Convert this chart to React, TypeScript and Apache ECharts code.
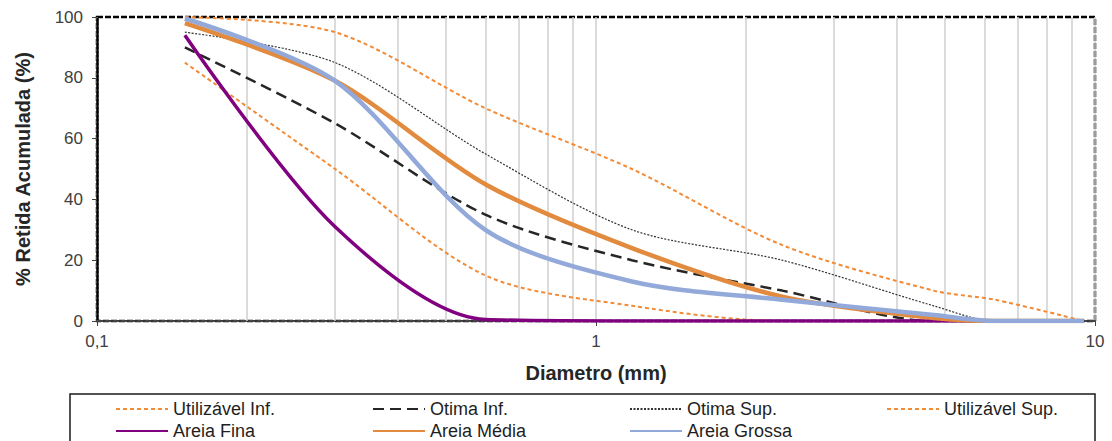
import React, { useEffect, useRef } from "react";
import * as echarts from "echarts";

const diam = [0.15, 0.3, 0.6, 1.18, 2.36, 4.75, 6.3, 9.5];
const utilInf = [85, 50, 15, 5, 0, 0, 0, 0];
const otimaInf = [90, 65, 35, 20, 10, 0, 0, 0];
const otimaSup = [95, 85, 55, 30, 20, 5, 0, 0];
const utilSup = [100, 95, 70, 50, 25, 10, 7, 0];
const areiaFina = [94, 31, 0.5, 0, 0, 0, 0, 0];
const areiaMedia = [98, 79, 45, 24, 8, 1, 0, 0];
const areiaGrossa = [99.5, 79, 30, 13, 7, 2, 0, 0];
const minorGrid = [0.2, 0.3, 0.4, 0.5, 0.6, 0.7, 0.8, 0.9, 2, 3, 4, 5, 6, 7, 8, 9];
const seriesNames = [
  "Utilizável Inf.",
  "Otima Inf.",
  "Otima Sup.",
  "Utilizável Sup.",
  "Areia Fina",
  "Areia Média",
  "Areia Grossa",
];

const FONT = "Liberation Sans, Arial, sans-serif";

const pairs = (vals: number[]) => diam.map((d, i) => [d, vals[i]]);

export default function App() {
  const ref = useRef<HTMLDivElement>(null);
  useEffect(() => {
    if (!ref.current) return;
    const chart = echarts.init(ref.current, undefined, { renderer: "svg" });
    const mk = (name: string, vals: number[], color: string, width: number, type: any, extra: any = {}) => ({
      name,
      type: "line",
      data: pairs(vals),
      smooth: 0.3,
      symbol: "none",
      showSymbol: false,
      lineStyle: { color, width, type, cap: "butt" },
      itemStyle: { color },
      ...extra,
    });
    const legendText = {
      fontFamily: FONT,
      fontSize: 18,
      color: "#1f1f1f",
      width: 193,
      lineHeight: 18,
    };
    const legendBase = {
      left: 110,
      width: 1100,
      itemWidth: 52,
      itemHeight: 14,
      itemGap: 6,
      textStyle: legendText,
      selectedMode: false,
      itemStyle: { opacity: 0, borderWidth: 0 },
    };
    chart.setOption({
      animation: false,
      textStyle: { fontFamily: FONT },
      grid: {
        left: 97,
        right: 17,
        top: 17,
        bottom: 120,
        show: true,
        borderColor: "#000",
        borderWidth: 2.5,
        borderType: [6, 2],
      },
      xAxis: {
        type: "log",
        logBase: 10,
        min: 0.1,
        max: 10,
        name: "Diametro (mm)",
        nameLocation: "middle",
        nameGap: 42,
        nameTextStyle: { fontFamily: FONT, fontSize: 20, fontWeight: "bold", color: "#262626" },
        axisLine: { show: true, lineStyle: { color: "#444", width: 2, type: [6, 2] } },
        axisTick: { show: true, length: 5, lineStyle: { color: "#444" } },
        axisLabel: {
          fontFamily: FONT,
          fontSize: 17,
          color: "#404040",
          margin: 12,
          formatter: (v: number) => String(Number(v.toPrecision(3))).replace(".", ","),
        },
        splitLine: { show: true, lineStyle: { color: "#cfcfcf", width: 1.5 } },
        minorTick: { show: false },
      },
      yAxis: {
        type: "value",
        min: 0,
        max: 100,
        interval: 20,
        name: "% Retida Acumulada (%)",
        nameLocation: "middle",
        nameRotate: 90,
        nameGap: 64,
        nameTextStyle: { fontFamily: FONT, fontSize: 20, fontWeight: "bold", color: "#262626" },
        axisLine: { show: true, lineStyle: { color: "#000", width: 2.5, type: [6, 2] } },
        axisTick: { show: true, length: 5, lineStyle: { color: "#444" } },
        axisLabel: { fontFamily: FONT, fontSize: 17, color: "#404040", margin: 14 },
        splitLine: { show: false },
      },
      legend: [
        { ...legendBase, data: seriesNames.slice(0, 4), top: 395 },
        { ...legendBase, data: seriesNames.slice(4), top: 417 },
      ],
      graphic: [
        {
          type: "rect",
          shape: { x: 70, y: 394, width: 1025, height: 60 },
          style: { fill: "none", stroke: "#1a1a1a", lineWidth: 1.5 },
          silent: true,
        },
      ],
      series: [
        mk(seriesNames[0], utilInf, "#F28A36", 2, [4, 3], {
          markLine: {
            silent: true,
            symbol: ["none", "none"],
            label: { show: false },
            lineStyle: { color: "#cfcfcf", width: 1.5, type: "solid" },
            data: minorGrid.map((v) => ({ xAxis: v })),
            z: 1,
          },
        }),
        mk(seriesNames[1], otimaInf, "#262626", 2.5, [11, 6]),
        mk(seriesNames[2], otimaSup, "#333333", 1.2, [2, 1.5]),
        mk(seriesNames[3], utilSup, "#F28A36", 2, [4, 3]),
        mk(seriesNames[4], areiaFina, "#800080", 3.5, "solid"),
        mk(seriesNames[5], areiaMedia, "#E28A3E", 4.5, "solid"),
        mk(seriesNames[6], areiaGrossa, "#92A9D9", 4.5, "solid"),
      ],
    });
    return () => chart.dispose();
  }, []);
  return (
    <div
      ref={ref}
      style={{ position: "fixed", left: 0, top: 0, width: 1112, height: 441, background: "#fff" }}
    />
  );
}
